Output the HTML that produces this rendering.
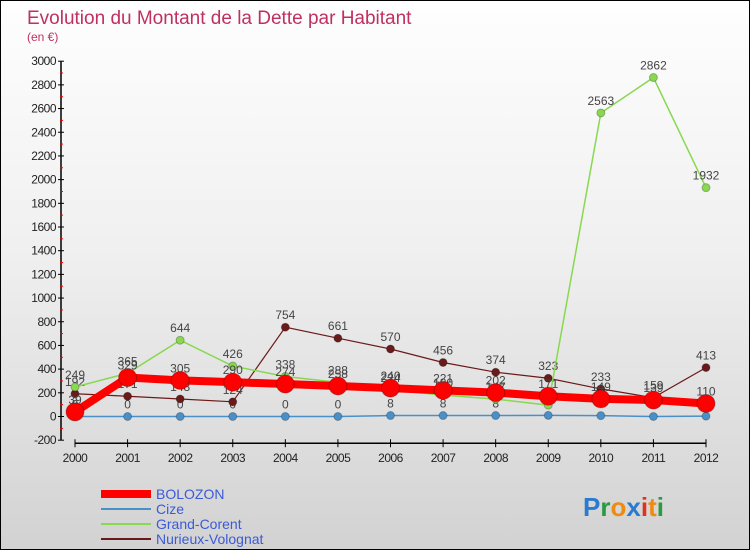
<!DOCTYPE html>
<html><head><meta charset="utf-8"><style>
body{margin:0}
#wrap{width:748px;height:548px;border:1px solid #000;position:relative;background:linear-gradient(#fefefe,#f0f0f0 45%,#d2d2d2);overflow:hidden;font-family:"Liberation Sans",sans-serif}
</style></head><body>
<div id="wrap">
<svg id="svg" width="748" height="548"></svg>
</div>
<script>
const years=["2000","2001","2002","2003","2004","2005","2006","2007","2008","2009","2010","2011","2012"];
const yTicks=[-200,0,200,400,600,800,1000,1200,1400,1600,1800,2000,2200,2400,2600,2800,3000];
const bolozon=[39,329,305,290,274,258,240,221,202,171,149,139,110];
const cize=[0,0,0,0,0,0,8,8,8,9,7,0,3];
const grand=[249,365,644,426,338,288,224,180,147,96,2563,2862,1932];
const nurieux=[192,171,148,124,754,661,570,456,374,323,233,159,413];
const NS="http://www.w3.org/2000/svg";
const svg=document.getElementById('svg');
function el(t,a,p){const e=document.createElementNS(NS,t);for(const k in a)e.setAttribute(k,a[k]);(p||svg).appendChild(e);return e;}
const x=i=>74+i*(705-74)/12;
const y=v=>415.5-v*(379/3200);
let t=el('text',{x:26,y:23,fill:'#c0305f','font-size':19});t.textContent='Evolution du Montant de la Dette par Habitant';

t=el('text',{x:26,y:40,fill:'#c0305f','font-size':12});t.textContent='(en €)';

let ax=el('line',{x1:60,y1:y(3000),x2:60,y2:y(-200),stroke:'#000','stroke-width':1.5});

yTicks.forEach((v,i)=>{el('line',{x1:57,x2:63,y1:y(v),y2:y(v),stroke:'#000'});
 if(i<yTicks.length-1)el('line',{x1:59,x2:62,y1:y(v+100),y2:y(v+100),stroke:'#e00'});
 let tt=el('text',{x:55,y:y(v)+4,'text-anchor':'end','font-size':12,fill:'#222','letter-spacing':'-0.5'});tt.textContent=v;
 });
let xa=el('line',{x1:74,x2:705,y1:y(-200)+3,y2:y(-200)+3,stroke:'#000','stroke-width':1.5});

years.forEach((yr,i)=>{el('line',{x1:x(i),x2:x(i),y1:y(-200)-1,y2:y(-200)+7,stroke:'#000'});
 let tt=el('text',{x:x(i),y:y(-200)+22,'text-anchor':'middle','font-size':12,fill:'#222','letter-spacing':'-0.5'});tt.textContent=yr;
 });
function series(d,col,w,r,name,labels){
 const g=el('g',{});
 el('polyline',{points:d.map((v,i)=>x(i)+','+y(v)).join(' '),fill:'none',stroke:col,'stroke-width':w},g);
 d.forEach((v,i)=>{const c=el('circle',{cx:x(i),cy:y(v),r:r,fill:col,stroke:'rgba(0,0,0,0.25)'},g);
  
  if(labels){const tt=el('text',{x:x(i),y:y(v)-8,'text-anchor':'middle','font-size':12,fill:'#444'},g);tt.textContent=v;}});
}
series(cize,'#4a90c8',1.5,4,'cize',true);
series(nurieux,'#6b1a1a',1.2,4,'nurieux-volognat',true);
series(grand,'#88d850',1.5,4,'grand-corent',true);
series(bolozon,'#f00',8,9,'bolozon',true);
const leg=[['BOLOZON','#f00',8],['Cize','#4a90c8',2],['Grand-Corent','#88d850',2],['Nurieux-Volognat','#6b1a1a',2]];
leg.forEach((l,i)=>{const g=el('g',{});
 el('line',{x1:100,x2:150,y1:493+i*15,y2:493+i*15,stroke:l[1],'stroke-width':l[2]},g);
 const tt=el('text',{x:155,y:498+i*15,'font-size':14,fill:'#3a5ad8'},g);tt.textContent=l[0];});
const lg=el('text',{x:582,y:515,'font-size':26,'font-weight':'bold'});

[['P','#2a7ad0'],['r','#2a9a40'],['o','#f08a10'],['x','#2a7ad0'],['i','#e03020'],['t','#f08a10'],['i','#2a9a40']].forEach(c=>{const s=el('tspan',{fill:c[1]},lg);s.textContent=c[0];});
</script>
</body></html>
